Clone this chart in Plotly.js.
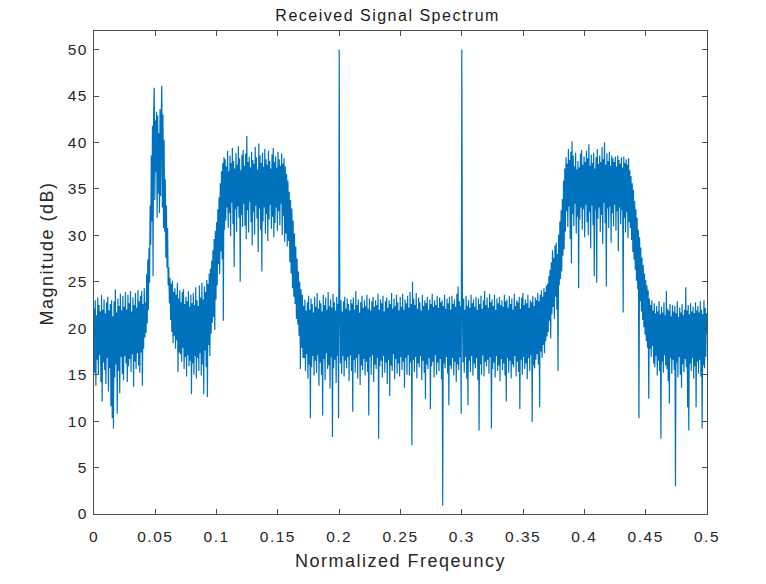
<!DOCTYPE html>
<html>
<head>
<meta charset="utf-8">
<script src="https://cdn.plot.ly/plotly-3.0.1.min.js"></script>
<style>
html,body{margin:0;padding:0;background:#fff;}
#chart{width:766px;height:584px;}
#chart text{letter-spacing:1.5px;}
</style>
</head>
<body>
<div id="chart"></div>
<script>
// Magnitude (dB), segment by segment.
// Each segment's values are spread evenly over its normalized-frequency span.
const segFloorLeft = [22.1, 15.2, 23.0, 13.8, 21.4, 16.6, 23.3, 15.0, 22.5, 17.1,
  21.8, 14.2, 23.6, 12.1, 22.0, 16.3, 23.1, 15.5, 21.6, 14.0,
  22.8, 16.8, 23.4, 13.2, 21.9, 15.7, 22.6, 11.6, 23.0, 10.3,
  21.3, 9.2, 22.9, 14.7, 24.2, 16.1, 21.7, 10.8, 23.2, 15.4,
  22.4, 13.0, 23.7, 16.9, 21.9, 15.1, 23.5, 14.4, 22.3, 17.0,
  23.9, 16.2, 22.0, 14.2, 23.6, 15.9, 22.7, 16.7, 24.0, 15.3,
  21.8, 17.2, 23.3, 13.7, 22.5, 16.4, 23.8, 15.6, 22.2, 17.3,
  24.1, 16.0, 22.9, 15.2, 23.5, 17.4, 24.0, 13.8, 22.6, 17.8,
  24.3, 19.0];
const segNarrowPeak = [22.8, 19.5, 25.8, 20.5, 27.4, 22.0, 28.6, 24.9, 33.2, 29.0,
  38.6, 31.5, 41.8, 25.6, 43.2, 45.9, 33.8, 42.4, 36.8, 43.3,
  31.9, 42.9, 34.5, 41.0, 32.4, 43.6, 34.2, 42.2, 46.1, 33.0,
  43.0, 30.8, 40.3, 30.4, 36.0, 27.6, 33.2, 26.5, 30.8, 24.6];
const segDip = [26.6, 22.7, 25.4, 20.9, 24.8, 19.6, 25.1, 18.4, 23.9, 19.2,
  24.3, 17.8, 23.6, 18.7, 24.9, 15.3, 23.2, 17.4, 24.1, 17.2,
  22.8, 16.4, 23.9, 17.9, 24.2, 15.6, 22.6, 16.9, 23.4, 14.8,
  22.9, 17.1, 24.0, 15.9, 22.3, 16.5, 23.6, 12.9, 22.7, 16.2,
  23.8, 15.0, 22.5, 17.0, 24.4, 14.6, 23.0, 16.8, 22.4, 15.4,
  24.6, 17.3, 23.3, 14.9, 24.9, 16.1, 23.1, 12.9, 24.5, 17.6,
  23.9, 15.8, 25.2, 12.6, 24.8, 18.2, 25.9, 17.0, 26.4, 19.4,
  27.3, 20.6, 28.4, 21.2, 29.6, 19.8, 30.5, 23.1];
const segRise1 = [31.4, 24.6, 32.8, 26.9, 34.1, 25.8, 35.6, 28.3, 36.9, 27.4, 37.8, 20.8, 38.4, 30.6];
const segPlateau1 = [38.2, 31.6, 37.4, 33.0, 39.1, 30.8, 36.9, 32.4, 38.6, 29.9,
  37.8, 33.5, 39.4, 31.2, 38.0, 26.6, 37.2, 32.8, 38.9, 30.4,
  37.6, 33.1, 39.6, 31.9, 38.3, 25.0, 37.0, 32.2, 38.7, 30.9,
  39.2, 33.4, 37.5, 31.0, 38.8, 29.6, 40.7, 32.7, 37.9, 30.3,
  38.5, 33.6, 37.3, 31.4, 39.0, 28.9, 38.1, 32.5, 37.7, 30.1,
  39.5, 33.2, 38.4, 31.8, 37.1, 28.2, 39.9, 32.9, 38.6, 30.6,
  37.8, 26.1, 38.9, 31.5, 37.4, 33.0, 39.3, 30.2, 38.2, 32.3,
  37.6, 29.4, 39.1, 31.7, 38.0, 33.3, 37.2, 30.7, 38.7, 32.0,
  39.4, 29.8, 37.9, 31.3, 38.5, 33.0, 37.3, 30.5, 39.0, 32.6,
  38.2, 31.1, 37.5, 33.4, 38.8, 30.0, 37.7, 32.1, 38.3, 29.3];
const segFall1 = [37.4, 30.2, 36.6, 28.8, 35.9, 29.4, 34.7, 27.1, 33.8, 25.9,
  32.9, 24.3, 31.6, 23.4, 30.2, 22.6, 28.8, 21.0, 27.5, 20.4,
  26.1, 19.2, 25.0, 15.6, 24.2, 17.9, 23.6, 16.8];
const segFloorA = [22.4, 16.8, 23.1, 15.4, 21.9, 17.2, 22.8, 14.6, 23.5, 16.1,
  22.0, 10.3, 23.2, 15.8, 22.6, 17.0, 21.7, 14.9, 23.4, 16.5,
  22.3, 15.2, 23.8, 17.1, 22.1, 13.8, 23.0, 16.3, 22.7, 15.0,
  21.8, 10.6, 23.6, 16.7, 22.5, 14.4, 23.3, 17.3, 22.0, 15.6,
  23.9, 16.0, 22.4, 13.5, 23.1, 16.9, 22.2, 8.3, 23.7, 15.7,
  22.8, 16.6, 21.9, 14.1, 23.4, 17.0, 22.6, 10.3];
const toneA = [50.0];
const segFloorB = [22.3, 16.2, 23.0, 15.1, 21.8, 17.0, 22.9, 14.8, 23.4, 16.5, 22.1, 15.7, 23.2, 16.9, 22.6, 14.3, 21.9, 17.1, 23.1, 15.4,
  22.7, 11.0, 23.3, 16.6, 22.0, 15.2, 24.0, 16.8, 22.5, 14.6, 23.1, 17.2, 21.7, 13.9, 22.8, 16.0, 23.5, 15.5, 22.2, 16.7,
  23.0, 14.9, 22.4, 16.4, 23.6, 15.3, 22.1, 10.6, 23.2, 16.9, 21.9, 15.0, 22.9, 17.1, 23.4, 14.2, 22.3, 16.1, 23.0, 15.6,
  22.5, 16.8, 23.7, 8.1, 22.0, 15.9, 23.1, 16.5, 22.7, 14.7, 23.5, 17.0, 21.8, 15.2, 22.9, 16.3, 23.3, 14.0, 22.2, 16.6,
  23.0, 12.7, 22.6, 16.0, 23.8, 15.4, 22.1, 17.2, 23.2, 14.5, 22.4, 16.7, 23.6, 15.1, 22.8, 16.2, 21.9, 14.8, 23.4, 16.9,
  22.3, 15.5, 23.7, 16.4, 22.0, 13.6, 23.1, 16.8, 22.7, 15.0, 23.5, 17.1, 22.2, 14.9, 23.9, 16.3, 22.6, 7.4, 25.0, 16.6,
  23.2, 15.3, 22.5, 16.9, 23.8, 14.6, 22.1, 16.2, 23.3, 15.8, 22.8, 17.0, 21.9, 14.4, 23.6, 16.5, 22.4, 15.2, 23.0, 12.4,
  22.7, 16.1, 23.4, 15.6, 22.0, 16.8, 23.1, 11.3, 22.6, 15.9, 23.7, 16.4, 22.3, 14.7, 23.0, 17.1, 22.5, 15.0, 23.5, 16.3,
  22.2, 15.4, 23.3, 16.7, 22.8, 14.5, 23.0, 0.9, 22.4, 16.2, 23.6, 15.7, 22.1, 16.9, 23.2, 15.1, 22.7, 11.7, 23.4, 16.0,
  22.0, 15.6, 23.5, 16.8, 22.6, 14.9, 23.1, 16.4, 22.3, 14.2, 23.7, 16.1, 24.5, 15.5, 22.9, 16.9, 22.4, 10.8];
const toneB = [50.0];
const segFloorC = [22.6, 16.3, 23.2, 15.2, 22.0, 16.9, 23.5, 14.6, 22.4, 11.7, 23.0, 16.5, 22.2, 15.3, 23.6, 17.0, 22.7, 14.9, 23.1, 16.2,
  22.3, 15.7, 23.4, 16.8, 22.0, 14.4, 23.2, 9.0, 22.6, 16.1, 23.5, 15.0, 22.1, 17.1, 23.0, 14.8, 24.0, 16.4, 22.5, 15.9,
  23.3, 16.6, 22.2, 15.1, 23.7, 16.9, 22.8, 9.2, 23.1, 15.6, 22.4, 16.3, 23.6, 14.7, 22.0, 17.0, 23.2, 15.4, 22.7, 16.0,
  23.4, 14.3, 22.5, 16.7, 23.0, 15.5, 22.3, 16.2, 23.6, 14.9, 22.9, 12.1, 23.1, 16.8, 22.2, 15.2, 23.5, 16.5, 22.6, 14.6,
  23.2, 16.1, 22.0, 15.8, 23.7, 17.0, 22.4, 14.8, 23.0, 16.4, 22.8, 15.3, 23.4, 11.3, 22.1, 16.6, 23.3, 15.0, 23.8, 16.9,
  22.5, 15.6, 23.1, 16.2, 22.7, 14.5, 23.6, 16.8, 22.2, 15.4, 23.0, 17.1, 22.8, 9.9, 23.5, 16.0, 22.4, 15.7, 23.3, 16.6,
  23.0, 17.2, 23.8, 16.1, 22.9, 11.5, 23.6, 17.5, 24.1, 16.8, 23.4, 18.2, 24.3, 17.3, 23.9, 18.6, 24.6, 19.1];
const segRise2 = [24.8, 19.6, 25.6, 20.8, 26.3, 18.9, 27.1, 21.5, 28.4, 22.3,
  27.6, 21.0, 28.9, 23.4, 29.2, 22.0, 28.0, 15.4, 30.1, 24.6,
  31.5, 25.3, 32.7, 26.1, 33.9, 27.8, 35.9, 28.5, 37.2, 30.4];
const segPlateau2 = [38.4, 32.6, 37.7, 30.9, 39.3, 33.1, 38.1, 29.6, 39.0, 27.0,
  40.1, 32.3, 38.6, 31.0, 37.4, 33.4, 38.9, 30.2, 37.1, 32.0,
  38.0, 24.3, 37.3, 31.7, 38.8, 33.0, 39.2, 30.6, 37.6, 32.8,
  38.5, 29.8, 37.9, 33.3, 39.1, 31.4, 38.3, 30.0, 39.8, 32.5,
  37.5, 28.6, 38.7, 33.2, 37.8, 31.1, 38.9, 25.6, 37.2, 32.7,
  38.4, 24.9, 39.3, 31.8, 37.7, 33.0, 38.6, 30.4, 37.9, 32.2,
  39.5, 29.1, 38.2, 33.5, 40.0, 31.3, 37.6, 24.5, 38.8, 32.9,
  38.0, 30.8, 39.0, 33.1, 37.5, 29.2, 38.6, 32.4, 38.3, 31.0,
  37.9, 33.3, 38.5, 30.5, 37.4, 32.6, 38.6, 28.3, 38.1, 33.0,
  37.7, 31.2, 38.4, 32.7, 37.3, 21.7, 38.5, 31.9, 37.8, 30.3,
  38.2, 32.5, 37.6, 29.7, 38.3, 31.4, 37.0, 30.8];
const segFall2 = [36.4, 29.5, 35.6, 28.2, 34.9, 27.4, 33.7, 26.3, 32.8, 25.1,
  31.9, 24.2, 30.6, 10.3, 29.8, 22.9, 28.7, 21.8, 27.6, 20.9,
  26.8, 20.1, 25.9, 19.3, 25.2, 18.6, 24.6, 17.9, 24.1, 12.4];
const segFloorRight = [23.2, 17.8, 22.5, 16.9, 23.0, 18.1, 21.9, 16.2, 22.7, 15.8, 21.6, 17.0, 22.4, 14.9, 21.8, 16.5, 22.9, 15.4, 21.5, 8.1,
  22.3, 16.4, 21.7, 15.2, 22.8, 17.1, 21.4, 16.0, 24.0, 15.6, 22.1, 14.3, 21.9, 11.9, 22.6, 16.8, 21.3, 15.1, 22.5, 16.6,
  21.8, 15.5, 22.4, 3.0, 21.6, 16.3, 22.9, 14.7, 21.2, 16.9, 22.2, 15.0, 21.7, 13.6, 22.6, 16.1, 21.4, 15.3, 22.0, 16.7,
  24.4, 15.8, 21.9, 11.5, 22.5, 9.0, 21.5, 16.2, 22.7, 15.4, 21.8, 16.8, 22.3, 14.6, 21.6, 15.9, 22.8, 11.5, 21.9, 16.4,
  22.4, 15.1, 21.7, 16.6, 22.9, 14.8, 22.0, 9.2, 21.5, 16.0, 23.0, 15.7, 22.2, 16.9, 21.6, 19.4];

// Normalized-frequency span [start, end] covered by each segment above.
const segments = [segFloorLeft, segNarrowPeak, segDip, segRise1, segPlateau1, segFall1, segFloorA, toneA, segFloorB, toneB, segFloorC, segRise2, segPlateau2, segFall2, segFloorRight];
const segmentSpans = [[0.0000, 0.0415], [0.0420, 0.0605], [0.0610, 0.0995], [0.1000, 0.1065], [0.1070, 0.1555], [0.1560, 0.1705], [0.1710, 0.1995], [0.2000, 0.2000], [0.2005, 0.2995], [0.3000, 0.3000], [0.3005, 0.3695], [0.3700, 0.3845], [0.3850, 0.4375], [0.4380, 0.4525], [0.4530, 0.5000]];

const xTickVals = [0, 0.05, 0.1, 0.15, 0.2, 0.25, 0.3, 0.35, 0.4, 0.45, 0.5];
const xTickText = ['0', '0.05', '0.1', '0.15', '0.2', '0.25', '0.3', '0.35', '0.4', '0.45', '0.5'];
const yTickVals = [0, 5, 10, 15, 20, 25, 30, 35, 40, 45, 50];

const freq = [], mag = [];
segments.forEach(function (vals, k) {
  const a = segmentSpans[k][0], b = segmentSpans[k][1];
  const n = vals.length;
  vals.forEach(function (v, j) {
    freq.push(n > 1 ? a + (b - a) * j / (n - 1) : a);
    mag.push(v);
  });
});

const axisColor = '#4d4d4d';
const font = 'Liberation Sans, Arial, Helvetica, sans-serif';
const trace = {
  x: freq, y: mag, type: 'scatter', mode: 'lines',
  line: {color: '#0072BD', width: 1.2, simplify: false},
  hoverinfo: 'skip'
};
const layout = {
  width: 766, height: 584,
  margin: {l: 94, r: 59, t: 31, b: 70},
  paper_bgcolor: '#ffffff', plot_bgcolor: '#ffffff',
  showlegend: false,
  font: {family: font, color: '#262626', size: 15.5},
  title: {text: 'Received Signal Spectrum', font: {family: font, size: 16, color: '#1a1a1a'},
          x: 0.479, xanchor: 'center', xref: 'paper', yref: 'paper', y: 1, yanchor: 'bottom', pad: {b: 10}},
  xaxis: {
    range: [0, 0.5], tickvals: xTickVals, ticktext: xTickText,
    ticks: 'inside', ticklen: 5, tickwidth: 1, tickcolor: axisColor,
    showline: true, linecolor: axisColor, linewidth: 1, mirror: 'ticks',
    showgrid: false, zeroline: false,
    tickfont: {family: font, size: 15.5, color: '#262626'},
    ticklabelstandoff: 8,
    title: {text: 'Normalized Freqeuncy', font: {family: font, size: 18, color: '#262626'}, standoff: 10},
    automargin: false
  },
  yaxis: {
    range: [0, 52], tickvals: yTickVals,
    ticks: 'inside', ticklen: 5, tickwidth: 1, tickcolor: axisColor,
    showline: true, linecolor: axisColor, linewidth: 1, mirror: 'ticks',
    showgrid: false, zeroline: false,
    tickfont: {family: font, size: 15.5, color: '#262626'},
    ticklabelstandoff: 2,
    automargin: false
  },
  annotations: [{
    text: 'Magnitude (dB)', textangle: -90, showarrow: false,
    xref: 'paper', yref: 'paper', x: -0.077, y: 0.54, xanchor: 'center', yanchor: 'middle',
    font: {family: font, size: 18, color: '#262626'}
  }]
};
Plotly.newPlot('chart', [trace], layout, {displayModeBar: false, staticPlot: true});
</script>
</body>
</html>
